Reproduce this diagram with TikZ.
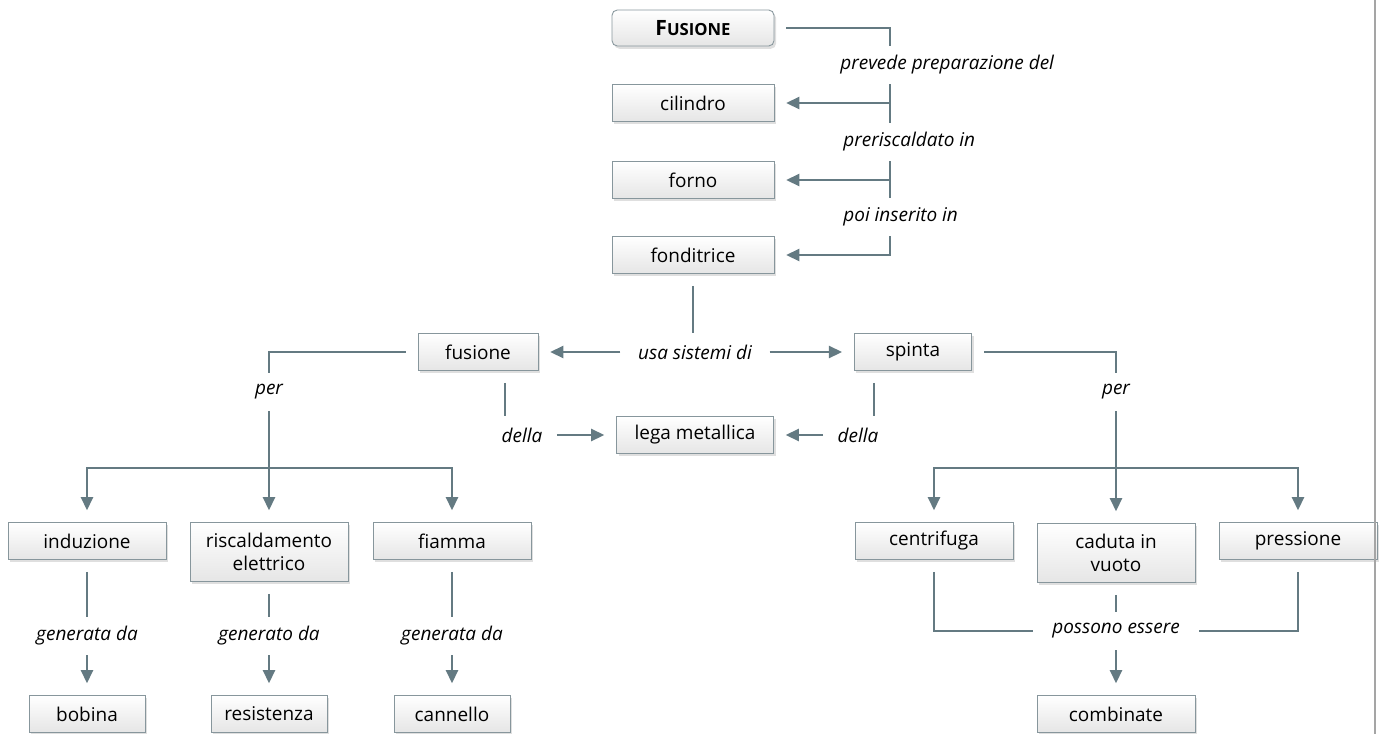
\documentclass[tikz,border=0pt]{standalone}
\usepackage{fontspec}
\setmainfont{Open Sans}
\usetikzlibrary{arrows.meta, calc, shadows}
\definecolor{linegray}{RGB}{100,122,130}
\definecolor{boxgray}{RGB}{135,150,156}
\definecolor{rulegray}{RGB}{165,165,165}

\begin{document}
\begin{tikzpicture}[x=0.02cm, y=-0.02cm, >={Triangle[length=7.5pt, width=7pt]},
    box/.style={draw=boxgray, line width=0.5pt, top color=white, bottom color=black!10,
        drop shadow={shadow xshift=1.2pt, shadow yshift=-1.6pt, opacity=0.25},
        minimum width=3.16cm, minimum height=0.74cm, inner sep=2pt, outer sep=7pt,
        align=center, font=\fontsize{10.8}{12.8}\selectfont},
    lbl/.style={font=\fontsize{10.8}{12.8}\selectfont\itshape, minimum height=0.76cm,
        inner xsep=8pt, inner ysep=0pt},
    conn/.style={draw=linegray, line width=1.1pt}]
    \useasboundingbox (0,0) rectangle (1384,734);

    % === Top column ===
    \node[box, rounded corners=3pt, minimum width=3.24cm, minimum height=0.72cm] (fus) at (693,28)
        {\fontsize{12}{14}\selectfont\textbf{F\fontsize{9.5}{11}\selectfont USIONE}};
    \node[box, minimum width=3.24cm] (cil) at (693,103) {cilindro};
    \node[box, minimum width=3.24cm] (forno) at (693,180) {forno};
    \node[box, minimum width=3.24cm] (fond) at (693,255) {fonditrice};

    \node[lbl, anchor=west, inner xsep=0pt] (prev) at (840,65) {prevede preparazione del};
    \node[lbl, anchor=west, inner xsep=0pt] (prer) at (843,142) {preriscaldato in};
    \node[lbl, anchor=west, inner xsep=0pt] (poi) at (843,217) {poi inserito in};

    % spine on the right
    \coordinate (S0) at (890,28);
    \coordinate (S1) at (890,103);
    \coordinate (S2) at (890,180);
    \coordinate (S3) at (890,255);

    \draw[conn] (fus.east) -- (S0) -- (S0 |- prev.north);
    \draw[conn] (S0 |- prev.south) -- (S0 |- prer.north);
    \draw[conn, ->] (S1) -- (cil.east);
    \draw[conn] (S0 |- prer.south) -- (S0 |- poi.north);
    \draw[conn, ->] (S2) -- (forno.east);
    \draw[conn, ->] (S0 |- poi.south) -- (S3) -- (fond.east);

    % === Middle: fusione / spinta ===
    \node[lbl, inner xsep=10pt] (usa) at (695,352) {usa sistemi di};
    \node[box, minimum width=2.4cm] (fusn) at (478,352) {fusione};
    \node[box, minimum width=2.35cm] (spin) at (913,352) {spinta};
    \node[box, minimum width=3.14cm] (lega) at (695,435) {lega metallica};
    \node[lbl] (del1) at (522,435) {della};
    \node[lbl] (del2) at (858,435) {della};

    \draw[conn] (fond.south) -- (fond.south |- usa.north);
    \draw[conn, ->] (usa.west) -- (fusn.east);
    \draw[conn, ->] (usa.east) -- (spin.west);

    \coordinate (D1) at (505,0);
    \coordinate (D2) at (874,0);
    \draw[conn] (D1 |- fusn.south) -- (D1 |- del1.north);
    \draw[conn, ->] (del1.east) -- (lega.west);
    \draw[conn] (D2 |- spin.south) -- (D2 |- del2.north);
    \draw[conn, ->] (del2.west) -- (lega.east);

    % === Left branch ===
    \node[lbl] (per1) at (269,392) {per};
    \coordinate (P1) at (269,352);
    \coordinate (H1) at (269,468);
    \node[box] (ind) at (87,541) {induzione};
    \node[box, minimum height=1.18cm] (ris) at (269,552) {riscaldamento\\elettrico};
    \node[box] (fia) at (452,541) {fiamma};

    \draw[conn] (fusn.west) -- (P1) -- (per1.north);
    \draw[conn, ->] (per1.south) -- (ris.north);
    \draw[conn, ->] (H1) -| (ind.north);
    \draw[conn, ->] (H1) -| (fia.north);

    \node[lbl] (gen1) at (87,636) {generata da};
    \node[lbl] (gen2) at (269,636) {generato da};
    \node[lbl] (gen3) at (452,636) {generata da};
    \node[box, minimum width=2.32cm] (bob) at (87,714) {bobina};
    \node[box, minimum width=2.32cm] (res) at (269,714) {resistenza};
    \node[box, minimum width=2.32cm] (can) at (452,714) {cannello};

    \draw[conn] (ind.south) -- (gen1.north);
    \draw[conn, ->] (gen1.south) -- (bob.north);
    \draw[conn] (ris.south) -- (gen2.north);
    \draw[conn, ->] (gen2.south) -- (res.north);
    \draw[conn] (fia.south) -- (gen3.north);
    \draw[conn, ->] (gen3.south) -- (can.north);

    % === Right branch ===
    \node[lbl] (per2) at (1116,392) {per};
    \coordinate (P2) at (1116,352);
    \coordinate (H2) at (1116,468);
    \node[box] (cen) at (934,541) {centrifuga};
    \node[box, minimum height=1.18cm] (cad) at (1116,553) {caduta in\\vuoto};
    \node[box] (pre) at (1298,541) {pressione};

    \draw[conn] (spin.east) -- (P2) -- (per2.north);
    \draw[conn, ->] (per2.south) -- (cad.north);
    \draw[conn, ->] (H2) -| (cen.north);
    \draw[conn, ->] (H2) -| (pre.north);

    \node[lbl, inner xsep=11pt] (poss) at (1116,631) {possono essere};
    \node[box] (comb) at (1116,714) {combinate};

    \draw[conn] (cen.south) |- (poss.west);
    \draw[conn] (pre.south) |- (poss.east);
    \draw[conn] (cad.south) -- (poss.north);
    \draw[conn, ->] (poss.south) -- (comb.north);

    % page rule
    \draw[rulegray, line width=1.4pt] (1375,0) -- (1375,734);
\end{tikzpicture}
\end{document}
